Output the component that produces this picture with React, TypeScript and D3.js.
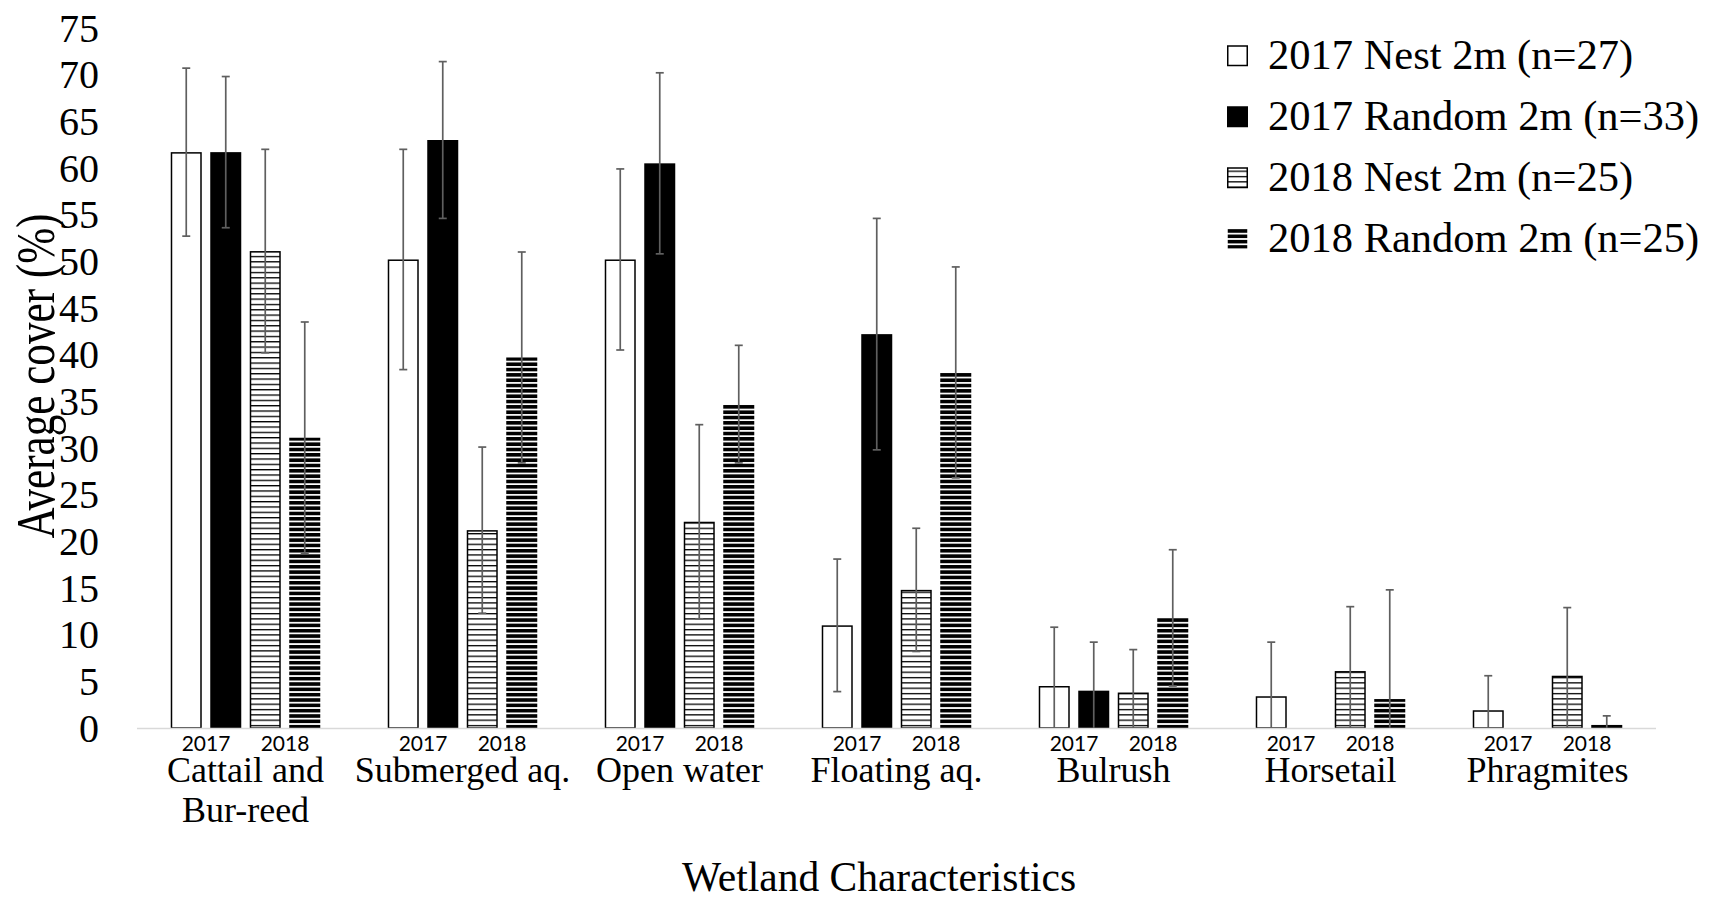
import React, { useEffect } from "react";
import * as d3 from "d3";

const categories = [
  "Cattail and Bur-reed",
  "Submerged aq.",
  "Open water",
  "Floating aq.",
  "Bulrush",
  "Horsetail",
  "Phragmites",
];
const categoryLines = [
  ["Cattail and", "Bur-reed"],
  ["Submerged aq."],
  ["Open water"],
  ["Floating aq."],
  ["Bulrush"],
  ["Horsetail"],
  ["Phragmites"],
];
const seriesNames = [
  "2017 Nest 2m (n=27)",
  "2017 Random 2m (n=33)",
  "2018 Nest 2m (n=25)",
  "2018 Random 2m (n=25)",
];
const nest2017 = [61.7, 50.2, 50.2, 11.0, 4.5, 3.4, 1.9];
const random2017 = [61.7, 63.0, 60.5, 42.2, 4.0, 0, 0];
const nest2018 = [51.1, 21.2, 22.1, 14.8, 3.8, 6.1, 5.6];
const random2018 = [31.1, 39.7, 34.7, 38.1, 11.8, 3.1, 0.4];
const nest2017Err = [9.0, 11.8, 9.7, 7.1, 6.3, 5.8, 3.7];
const random2017Err = [8.1, 8.4, 9.7, 12.4, 5.2, 0, 0];
const nest2018Err = [10.9, 8.9, 10.4, 6.6, 4.6, 6.9, 7.3];
const random2018Err = [12.4, 11.3, 6.3, 11.3, 7.3, 11.7, 0.9];
const yearLabels = ["2017", "2018"];
const yTicks = d3.range(0, 80, 5);

const seriesValues = [nest2017, random2017, nest2018, random2018];
const seriesErrors = [nest2017Err, random2017Err, nest2018Err, random2018Err];

const W = 1717;
const H = 899;
const left = 137;
const right = 1656;
const baseY = 728;
const topY = 28;

const serif = "'Liberation Serif', 'Times New Roman', serif";
const sans = "Lato, 'Open Sans', sans-serif";

function fillFor(i: number) {
  if (i === 0) return "#ffffff";
  if (i === 1) return "#000000";
  if (i === 2) return "url(#narrowH)";
  return "url(#darkH)";
}

export default function App() {
  useEffect(() => {
    document.body.style.margin = "0";
  }, []);

  const x0 = d3
    .scaleBand<string>()
    .domain(categories)
    .range([left, right])
    .paddingInner(0.311)
    .paddingOuter(0.1555);
  const x1 = d3
    .scaleBand<string>()
    .domain(seriesNames)
    .range([0, x0.bandwidth()])
    .paddingInner(0.215)
    .paddingOuter(0);
  const y = d3.scaleLinear().domain([0, 75]).range([baseY, topY]);
  const bw = x1.bandwidth();

  const bars: React.ReactNode[] = [];
  const errs: React.ReactNode[] = [];
  categories.forEach((c, ci) => {
    seriesNames.forEach((s, si) => {
      const v = seriesValues[si][ci];
      const e = seriesErrors[si][ci];
      const bx = (x0(c) as number) + (x1(s) as number);
      if (v > 0) {
        const outlined = si === 0 || si === 2;
        if (outlined) {
          bars.push(
            <rect
              key={`b${ci}-${si}`}
              x={bx + 0.75}
              y={y(v) + 0.75}
              width={bw - 1.5}
              height={Math.max(0, y(0) - y(v) - 0.75)}
              fill={fillFor(si)}
              stroke="#000"
              strokeWidth={1.5}
            />
          );
        } else {
          bars.push(
            <rect
              key={`b${ci}-${si}`}
              x={bx}
              y={y(v)}
              width={bw}
              height={y(0) - y(v)}
              fill={fillFor(si)}
            />
          );
        }
      }
      if (e > 0) {
        const cx = bx + bw / 2;
        const hi = v + e;
        const lo = v - e;
        const yLo = lo < 0 ? y(0) : y(lo);
        errs.push(
          <g key={`e${ci}-${si}`} stroke="#5f5f5f" strokeWidth={1.7}>
            <line x1={cx} x2={cx} y1={y(hi)} y2={yLo} />
            <line x1={cx - 4} x2={cx + 4} y1={y(hi)} y2={y(hi)} />
            {lo >= 0 && <line x1={cx - 4} x2={cx + 4} y1={y(lo)} y2={y(lo)} />}
          </g>
        );
      }
    });
  });

  const legendX = 1227;
  const legendText = 1268;
  const legendBase = [69, 130, 191, 252];

  return (
    <svg
      width={W}
      height={H}
      style={{ position: "absolute", left: 0, top: 0, background: "#fff" }}
    >
      <defs>
        <pattern id="narrowH" patternUnits="userSpaceOnUse" width={8} height={5.33}>
          <rect x={0} y={0} width={8} height={5.33} fill="#fff" />
          <rect x={0} y={0} width={8} height={1.3} fill="#000" />
        </pattern>
        <pattern id="darkH" patternUnits="userSpaceOnUse" width={8} height={5.33}>
          <rect x={0} y={0} width={8} height={5.33} fill="#fff" />
          <rect x={0} y={0} width={8} height={3.6} fill="#000" />
        </pattern>
      </defs>
      <rect x={0} y={0} width={W} height={H} fill="#fff" />

      {/* y tick labels */}
      {yTicks.map((t) => (
        <text
          key={t}
          x={99}
          y={y(t) + 13.5}
          textAnchor="end"
          fontFamily={serif}
          fontSize={40}
          fill="#000"
        >
          {t}
        </text>
      ))}

      {/* y title */}
      <text
        transform={`translate(54,376) rotate(-90)`}
        textAnchor="middle"
        fontFamily={serif}
        fontSize={54}
        textLength={325}
        lengthAdjust="spacingAndGlyphs"
        fill="#000"
      >
        Average cover (%)
      </text>

      {bars}

      {/* x axis line */}
      <line x1={left} x2={right} y1={baseY + 0.5} y2={baseY + 0.5} stroke="#d9d9d9" strokeWidth={1.5} />

      {errs}

      {/* year labels */}
      {categories.map((c, ci) =>
        yearLabels.map((yl, yi) => {
          const a = (x0(c) as number) + (x1(seriesNames[yi * 2]) as number);
          const b = (x0(c) as number) + (x1(seriesNames[yi * 2 + 1]) as number) + bw;
          return (
            <text
              key={`y${ci}-${yi}`}
              x={(a + b) / 2}
              y={751}
              textAnchor="middle"
              fontFamily={sans}
              fontSize={21}
              fill="#000"
            >
              {yl}
            </text>
          );
        })
      )}

      {/* category labels */}
      {categories.map((c, ci) => (
        <text
          key={`c${ci}`}
          x={(x0(c) as number) + x0.bandwidth() / 2}
          y={782}
          textAnchor="middle"
          fontFamily={serif}
          fontSize={36}
          fill="#000"
        >
          {categoryLines[ci].map((ln, li) => (
            <tspan key={li} x={(x0(c) as number) + x0.bandwidth() / 2} dy={li === 0 ? 0 : 40}>
              {ln}
            </tspan>
          ))}
        </text>
      ))}

      {/* x title */}
      <text x={879} y={891} textAnchor="middle" fontFamily={serif} fontSize={41.5} fill="#000">
        Wetland Characteristics
      </text>

      {/* legend */}
      {seriesNames.map((s, si) => (
        <g key={`l${si}`}>
          <rect
            x={legendX + 0.75}
            y={legendBase[si] - 23}
            width={19.5}
            height={19.5}
            fill={fillFor(si)}
            stroke={si === 3 ? "none" : "#000"}
            strokeWidth={1.5}
          />
          <text
            x={legendText}
            y={legendBase[si]}
            fontFamily={serif}
            fontSize={42.5}
            fill="#000"
          >
            {s}
          </text>
        </g>
      ))}
    </svg>
  );
}
